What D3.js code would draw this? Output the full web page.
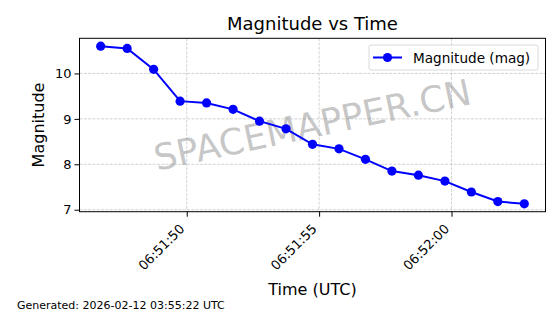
<!DOCTYPE html>
<html>
<head>
<meta charset="utf-8">
<script src="https://cdn.jsdelivr.net/npm/d3@7"></script>
<style>
  body { margin: 0; background: #fff; }
  text { font-family: "DejaVu Sans", sans-serif; }
</style>
</head>
<body>
<script>
// data
var times = ["06:51:46.75", "06:51:47.75", "06:51:48.75", "06:51:49.75", "06:51:50.75",
             "06:51:51.75", "06:51:52.75", "06:51:53.75", "06:51:54.75", "06:51:55.75",
             "06:51:56.75", "06:51:57.75", "06:51:58.75", "06:51:59.75", "06:52:00.75",
             "06:52:01.75", "06:52:02.75"];
var magnitudes = [10.60, 10.55, 10.09, 9.39, 9.35, 9.21, 8.95, 8.78, 8.44, 8.34,
                  8.11, 7.85, 7.76, 7.63, 7.39, 7.18, 7.13];
var yTicks = [7, 8, 9, 10];
var xTickTimes = ["06:51:50", "06:51:55", "06:52:00"];

var W = 560, H = 314;
var margin = {top: 38.3, right: 14.5, bottom: 102.3, left: 79.5};
var width = W - margin.left - margin.right,
    height = H - margin.top - margin.bottom;

var parse = function(s) { return new Date("2026-02-12T" + s + "Z"); };
var data = times.map(function(t, i) { return {date: parse(t), number: magnitudes[i]}; });

var svg = d3.select("body").append("svg")
    .attr("width", W)
    .attr("height", H);

var g = svg.append("g")
    .attr("transform", "translate(" + margin.left + "," + margin.top + ")");

// matplotlib style 5% padding
var xe = d3.extent(data, function(d) { return +d.date; });
var xp = (xe[1] - xe[0]) * 0.05;
var ye = d3.extent(data, function(d) { return d.number; });
var yp = (ye[1] - ye[0]) * 0.05;

var x = d3.scaleUtc().domain([new Date(xe[0] - xp), new Date(xe[1] + xp)]).range([0, width]);
var y = d3.scaleLinear().domain([ye[0] - yp, ye[1] + yp]).range([height, 0]);

var xTicks = xTickTimes.map(parse);

// grid
g.append("g").selectAll("line.gx")
    .data(xTicks).enter().append("line")
    .attr("x1", function(d) { return x(d); })
    .attr("x2", function(d) { return x(d); })
    .attr("y1", 0).attr("y2", height)
    .attr("stroke", "#c8c8c8").attr("stroke-width", 0.8)
    .attr("stroke-dasharray", "3,1.3");
g.append("g").selectAll("line.gy")
    .data(yTicks).enter().append("line")
    .attr("x1", 0).attr("x2", width)
    .attr("y1", function(d) { return y(d); })
    .attr("y2", function(d) { return y(d); })
    .attr("stroke", "#c8c8c8").attr("stroke-width", 0.8)
    .attr("stroke-dasharray", "3,1.3");

// watermark (semi transparent, grid shows through)
g.append("text")
    .attr("transform", "translate(" + (width / 2) + "," + (height / 2) + ") rotate(-12)")
    .attr("text-anchor", "middle")
    .attr("dominant-baseline", "central")
    .style("font-size", "36px")
    .attr("fill", "#808080")
    .attr("fill-opacity", 0.45)
    .text("SPACEMAPPER.CN");

// the line
var valueline = d3.line()
    .x(function(d) { return x(d.date); })
    .y(function(d) { return y(d.number); });

g.append("path")
    .datum(data)
    .attr("fill", "none")
    .attr("stroke", "#0000ff")
    .attr("stroke-width", 2)
    .attr("d", valueline);

g.append("g").selectAll("circle")
    .data(data).enter().append("circle")
    .attr("cx", function(d) { return x(d.date); })
    .attr("cy", function(d) { return y(d.number); })
    .attr("r", 4.6)
    .attr("fill", "#0000ff");

// axes
var xAxis = g.append("g")
    .attr("transform", "translate(0," + height + ")")
    .call(d3.axisBottom(x).tickValues(xTicks).tickSize(5).tickSizeOuter(0).tickFormat(d3.utcFormat("%H:%M:%S")));
xAxis.selectAll("text")
    .style("font-size", "13px")
    .attr("fill", "#000")
    .attr("text-anchor", "end")
    .attr("dy", null)
    .attr("y", null)
    .attr("transform", "translate(-2,18) rotate(-45)");

var yAxis = g.append("g")
    .call(d3.axisLeft(y).tickValues(yTicks).tickSize(5).tickSizeOuter(0).tickFormat(d3.format("d")));
yAxis.selectAll("text").style("font-size", "13px").attr("fill", "#000");

[xAxis, yAxis].forEach(function(a) {
    a.select(".domain").remove();
    a.selectAll(".tick line").attr("stroke", "#000").attr("stroke-width", 1);
});

// frame
g.append("rect")
    .attr("width", width).attr("height", height)
    .attr("fill", "none").attr("stroke", "#000").attr("stroke-width", 1);

// legend
var lg = svg.append("g").attr("transform", "translate(369,45)");
lg.append("rect")
    .attr("width", 169).attr("height", 25).attr("rx", 2)
    .attr("fill", "#fff").attr("fill-opacity", 0.8)
    .attr("stroke", "#d0d0d0").attr("stroke-width", 0.8);
lg.append("line")
    .attr("x1", 4).attr("x2", 33).attr("y1", 12.5).attr("y2", 12.5)
    .attr("stroke", "#0000ff").attr("stroke-width", 2);
lg.append("circle").attr("cx", 18.5).attr("cy", 12.5).attr("r", 4.6).attr("fill", "#0000ff");
lg.append("text")
    .attr("x", 44).attr("y", 17.5)
    .style("font-size", "13.6px")
    .text("Magnitude (mag)");

// titles
svg.append("text")
    .attr("x", margin.left + width / 2).attr("y", 30)
    .attr("text-anchor", "middle")
    .style("font-size", "18px")
    .text("Magnitude vs Time");

svg.append("text")
    .attr("x", margin.left + width / 2).attr("y", 295)
    .attr("text-anchor", "middle")
    .style("font-size", "16px")
    .text("Time (UTC)");

svg.append("text")
    .attr("transform", "rotate(-90)")
    .attr("x", -(margin.top + height / 2)).attr("y", 44)
    .attr("text-anchor", "middle")
    .style("font-size", "16px")
    .text("Magnitude");

svg.append("text")
    .attr("x", 17).attr("y", 309)
    .style("font-size", "11px")
    .text("Generated: 2026-02-12 03:55:22 UTC");
</script>
</body>
</html>
